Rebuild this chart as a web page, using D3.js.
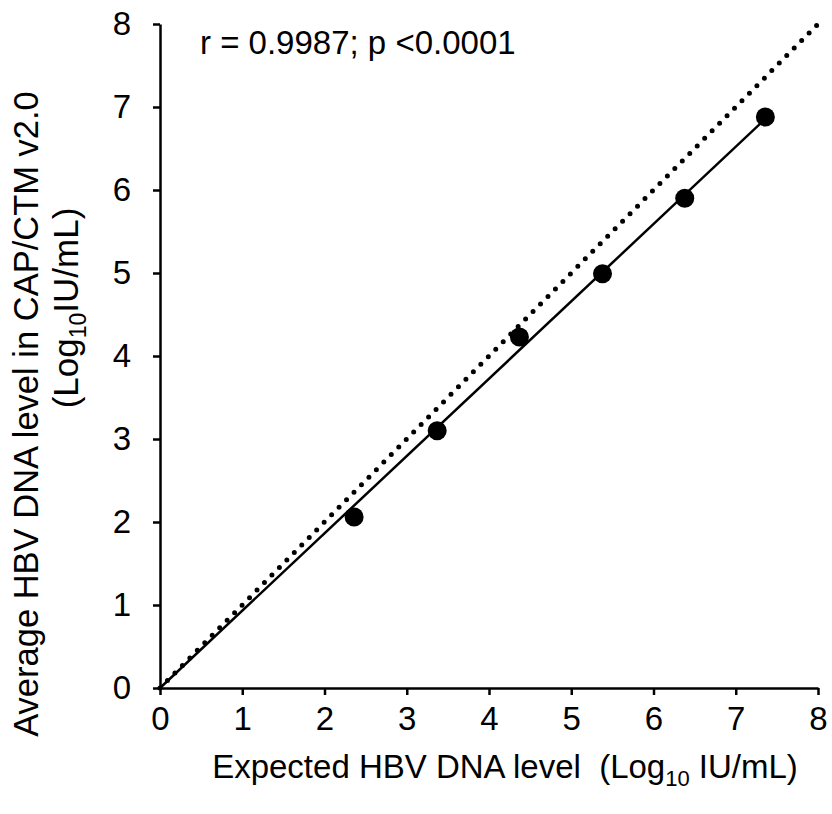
<!DOCTYPE html>
<html>
<head>
<meta charset="utf-8">
<script src="https://cdn.jsdelivr.net/npm/d3@7/dist/d3.min.js"></script>
<style>
  html, body { margin: 0; padding: 0; background: #fff; }
  svg { display: block; font-family: "Liberation Sans", Arial, sans-serif; }
</style>
</head>
<body>
<svg id="chart" width="832" height="814"></svg>
<script>
// ---- data ----
const expected = [2.36, 3.37, 4.37, 5.38, 6.38, 7.36];
const measured = [2.06, 3.10, 4.23, 4.99, 5.90, 6.88];
const xTicks = [0, 1, 2, 3, 4, 5, 6, 7, 8];
const yTicks = [0, 1, 2, 3, 4, 5, 6, 7, 8];
const statsLabel = "r = 0.9987; p <0.0001";

const svg = d3.select("#chart");
const fs = 33;
const x = d3.scaleLinear().domain([0, 8]).range([160, 818]);
const y = d3.scaleLinear().domain([0, 8]).range([688, 24]);

// identity line (dotted)
const idLine = d3.line().x(d => x(d)).y(d => y(d));
svg.append("path")
  .attr("d", idLine([0, 8]))
  .attr("fill", "none")
  .attr("stroke", "#000")
  .attr("stroke-width", 5)
  .attr("stroke-linecap", "round")
  .attr("stroke-dasharray", "0 10.6");

// regression line through origin
const pts = expected.map((v, i) => ({ x: v, y: measured[i] }));
const slope = d3.sum(pts, p => p.x * p.y) / d3.sum(pts, p => p.x * p.x);
const xMax = d3.max(expected);
svg.append("path")
  .attr("d", d3.line().x(d => x(d[0])).y(d => y(d[1]))([[0, 0], [xMax, slope * xMax]]))
  .attr("fill", "none")
  .attr("stroke", "#000")
  .attr("stroke-width", 2.5);

// points
svg.selectAll("circle.pt").data(pts).enter().append("circle")
  .attr("class", "pt")
  .attr("cx", d => x(d.x))
  .attr("cy", d => y(d.y))
  .attr("r", 9.5)
  .attr("fill", "#000");

// axes
const xAxis = svg.append("g").attr("transform", `translate(0,${y(0)})`)
  .call(d3.axisBottom(x).tickValues(xTicks).tickSize(7).tickSizeOuter(0).tickPadding(12).tickFormat(d3.format("d")));
const yAxis = svg.append("g").attr("transform", `translate(${x(0)},0)`)
  .call(d3.axisLeft(y).tickValues(yTicks).tickSize(7).tickSizeOuter(0).tickPadding(22).tickFormat(d3.format("d")));
[xAxis, yAxis].forEach(g => {
  g.selectAll("path.domain").attr("stroke", "#000").attr("stroke-width", 2.5);
  g.selectAll(".tick line").attr("stroke", "#000").attr("stroke-width", 2.5);
  g.selectAll(".tick text").attr("fill", "#000")
    .style("font-family", '"Liberation Sans", Arial, sans-serif')
    .style("font-size", fs + "px");
});

// stats label
svg.append("text")
  .attr("x", 200).attr("y", 54)
  .style("font-size", fs + "px")
  .text(statsLabel);

// x title
const xt = svg.append("text")
  .attr("x", 505).attr("y", 778)
  .attr("text-anchor", "middle")
  .style("font-size", fs + "px");
xt.append("tspan").text("Expected HBV DNA level\u00a0\u00a0(Log");
xt.append("tspan").attr("dy", 8).style("font-size", "22px").text("10");
xt.append("tspan").attr("dy", -8).text(" IU/mL)");

// y title line 1
svg.append("text")
  .attr("transform", "translate(38,414) rotate(-90)")
  .attr("text-anchor", "middle")
  .style("font-size", "34.5px")
  .text("Average HBV DNA level in CAP/CTM v2.0");

// y title line 2
const yt2 = svg.append("text")
  .attr("transform", "translate(78,308) rotate(-90)")
  .attr("text-anchor", "middle")
  .style("font-size", "35px");
yt2.append("tspan").text("(Log");
yt2.append("tspan").attr("dy", 8).style("font-size", "23px").text("10");
yt2.append("tspan").attr("dy", -8).text("IU/mL)");
</script>
</body>
</html>
